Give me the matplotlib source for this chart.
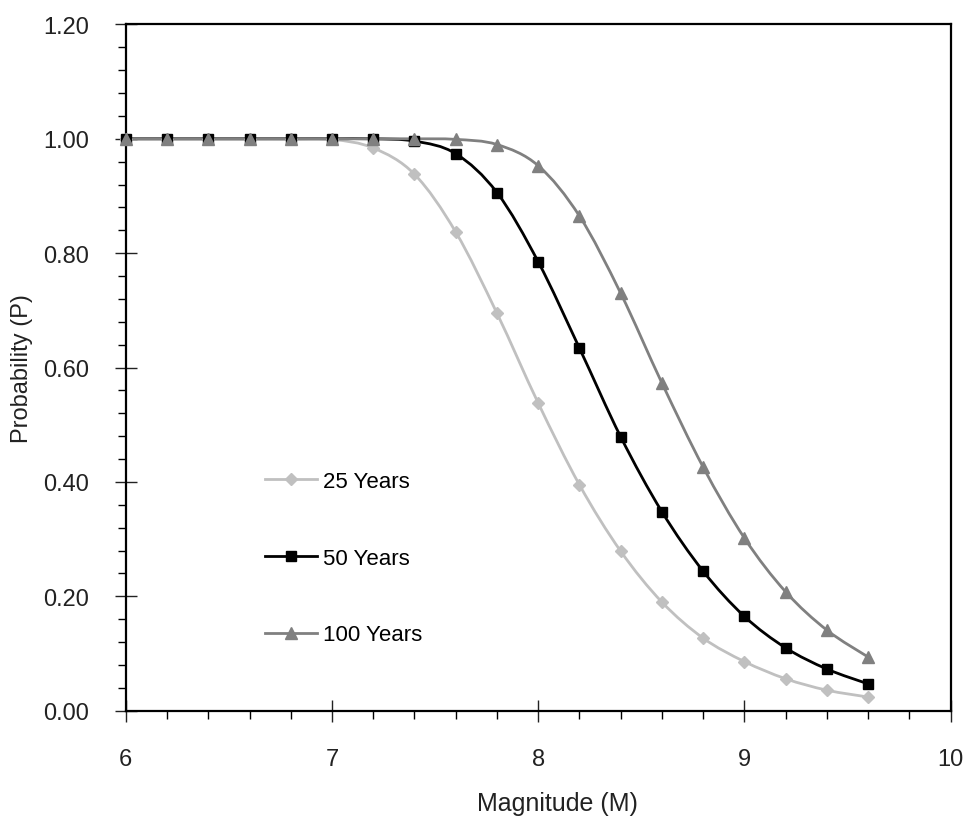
import numpy as np
import matplotlib.pyplot as plt
from matplotlib.path import Path
from matplotlib.patches import PathPatch
from matplotlib.ticker import MultipleLocator, FormatStrFormatter

plt.rcParams['font.family'] = ['Liberation Sans', 'DejaVu Sans']

# magnitude values and probabilities
magnitude = [6.0, 6.2, 6.4, 6.6, 6.8, 7.0, 7.2, 7.4, 7.6, 7.8,
             8.0, 8.2, 8.4, 8.6, 8.8, 9.0, 9.2, 9.4, 9.6]
p_25 = [1.000, 1.000, 1.000, 1.000, 1.000, 0.999, 0.984, 0.938, 0.837, 0.695,
        0.538, 0.395, 0.279, 0.190, 0.127, 0.086, 0.056, 0.036, 0.024]
p_50 = [1.000, 1.000, 1.000, 1.000, 1.000, 1.000, 1.000, 0.996, 0.974, 0.906,
        0.785, 0.634, 0.479, 0.348, 0.244, 0.165, 0.110, 0.073, 0.047]
p_100 = [1.000, 1.000, 1.000, 1.000, 1.000, 1.000, 1.000, 1.000, 0.999, 0.990,
         0.953, 0.865, 0.730, 0.573, 0.426, 0.302, 0.208, 0.141, 0.094]

series = [
    ('25 Years', p_25, '#c0c0c0', 'D', 6.5),
    ('50 Years', p_50, '#000000', 's', 7.5),
    ('100 Years', p_100, '#808080', '^', 8.5),
]


def smooth_path(xs, ys):
    # Excel-style smoothed line: cubic Bezier segments through each point
    pts = np.column_stack([xs, ys])
    n = len(pts)
    verts = [pts[0]]
    codes = [Path.MOVETO]
    for i in range(n - 1):
        p0 = pts[max(i - 1, 0)]
        p1 = pts[i]
        p2 = pts[i + 1]
        p3 = pts[min(i + 2, n - 1)]
        c1 = p1 + (p2 - p0) / 6.0
        c2 = p2 - (p3 - p1) / 6.0
        verts += [c1, c2, p2]
        codes += [Path.CURVE4] * 3
    return Path(verts, codes)


fig = plt.figure(figsize=(9.68, 8.2), dpi=100)
ax = fig.add_axes([0.130, 0.132, 0.852, 0.837])

for label, vals, color, marker, ms in series:
    ax.add_patch(PathPatch(smooth_path(magnitude, vals), facecolor='none',
                           edgecolor=color, lw=2, zorder=2))
    ax.plot(magnitude, vals, linestyle='none', marker=marker, ms=ms,
            color=color, mec=color, zorder=3, clip_on=False)
    ax.plot([], [], color=color, lw=2, marker=marker, ms=ms, label=label)

ax.set_xlim(6, 10)
ax.set_ylim(0, 1.2)
ax.xaxis.set_major_locator(MultipleLocator(1))
ax.xaxis.set_minor_locator(MultipleLocator(0.2))
ax.yaxis.set_major_locator(MultipleLocator(0.2))
ax.yaxis.set_minor_locator(MultipleLocator(0.04))
ax.yaxis.set_major_formatter(FormatStrFormatter('%.2f'))

ax.tick_params(which='major', direction='inout', length=15.5, width=1,
               labelsize=17, colors='#222222')
ax.tick_params(which='minor', direction='out', length=5.8, width=1)
ax.tick_params(axis='y', which='major', pad=19)
ax.tick_params(axis='x', which='major', pad=19)

for sp in ax.spines.values():
    sp.set_linewidth(1.6)

ax.set_xlabel('Magnitude (M)', fontsize=18, color='#222222')
ax.set_ylabel('Probability (P)', fontsize=17, color='#222222')
ax.xaxis.set_label_coords(0.523, -0.117)
ax.yaxis.set_label_coords(-0.113, 0.5)

ax.legend(loc='upper left', bbox_to_anchor=(0.169, 0.349), frameon=False,
          fontsize=16, handlelength=2.35, handletextpad=0.25,
          labelspacing=2.5, borderpad=0, borderaxespad=0)

plt.savefig('out.png', dpi=100)
plt.close()
